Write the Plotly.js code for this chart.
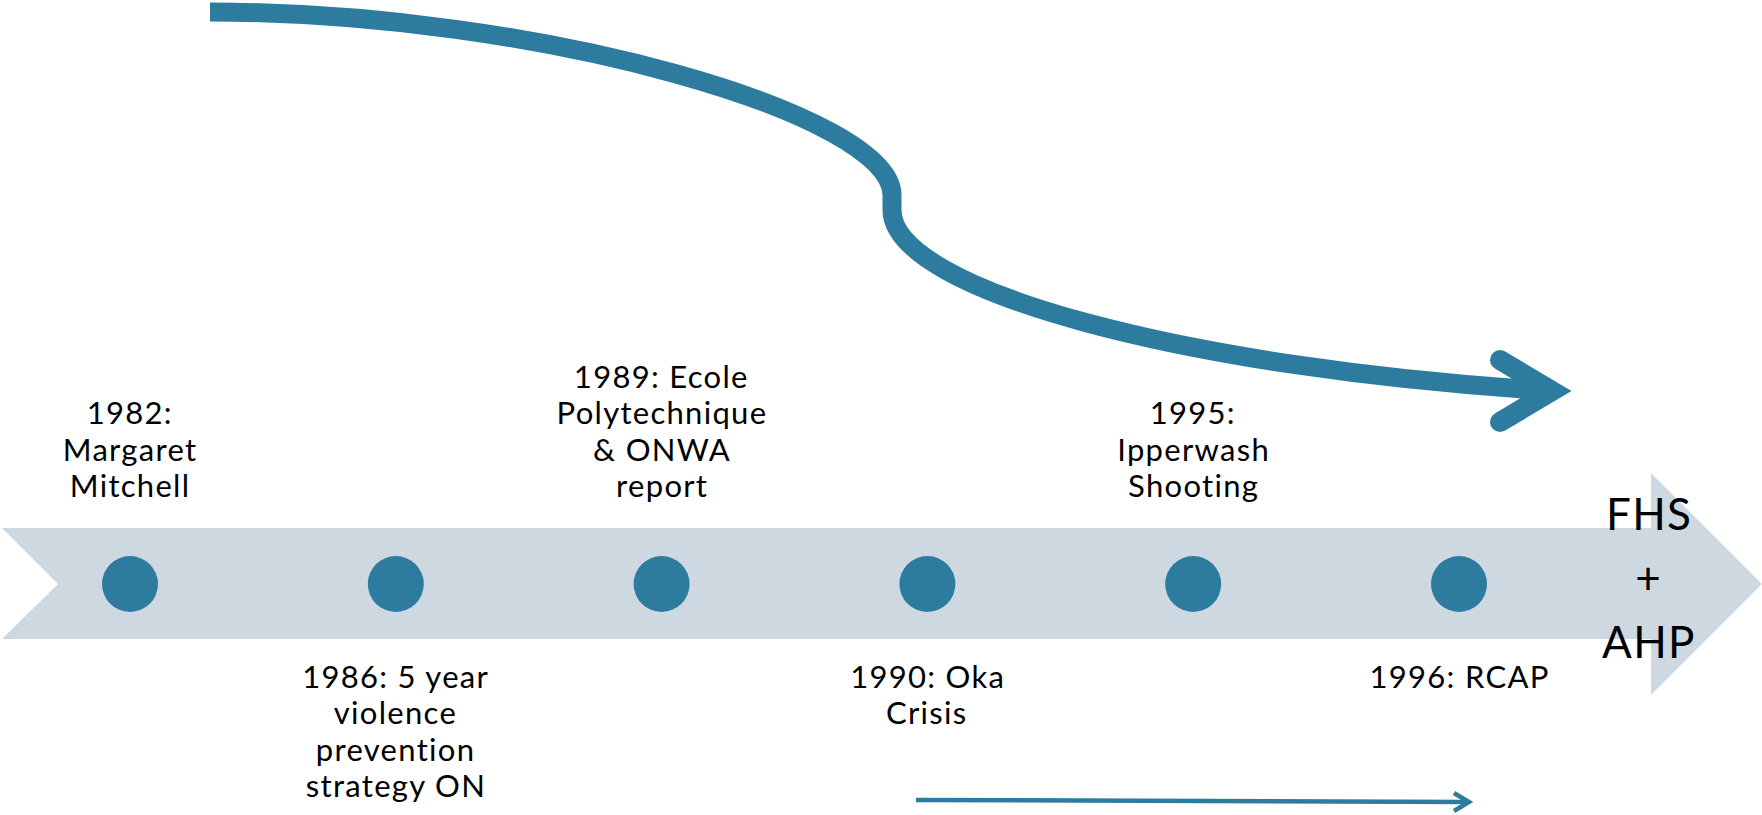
<!DOCTYPE html>
<html>
<head>
<meta charset="utf-8">
<script src="https://cdn.plot.ly/plotly-3.0.1.min.js"></script>
<style>
  html, body { margin: 0; padding: 0; background: #ffffff; }
  #chart { width: 1762px; height: 815px; }
  #chart .annotation-text { letter-spacing: 1.3px; }
</style>
</head>
<body>
<div id="chart"></div>
<script>
// ---------------- data ----------------
const eventYears  = [1982, 1986, 1989, 1990, 1995, 1996];
const eventOrder  = [0, 1, 2, 3, 4, 5];
const eventLabels = [
  "1982:\nMargaret\nMitchell",
  "1986: 5 year\nviolence\nprevention\nstrategy ON",
  "1989: Ecole\nPolytechnique\n& ONWA\nreport",
  "1990: Oka\nCrisis",
  "1995:\nIpperwash\nShooting",
  "1996: RCAP"
];
const labelSide   = ["above", "below", "above", "below", "above", "below"];
const endLabel    = ["FHS", "+", "AHP"];

// ---------------- layout helpers ----------------
const W = 1762, H = 815;
const X0PX = 130, STEP = 265.8;          // pixel position of first event, spacing
const X = px => (px - X0PX) / STEP;       // pixel -> event-axis units
const P = (px, py) => X(px) + "," + py;

const BLUE = "#2D7CA0";
const BAND = "#CDD8E0";
const FONT = "Lato, 'Noto Sans', sans-serif";
const TIMELINE_Y = 584;
const LINE_GAP = 36.3;
const FS = 31;
const CENTER_OFF = 0.387 * FS;   // bbox centre above baseline

// ---------------- traces ----------------
const dots = {
  type: "scatter",
  mode: "markers",
  x: eventOrder,
  y: eventOrder.map(() => TIMELINE_Y),
  text: eventYears.map(String),
  marker: { size: 56, color: BLUE, line: { width: 0 } },
  hoverinfo: "text",
  showlegend: false
};

// ---------------- annotations ----------------
const annotations = [];
eventLabels.forEach((lab, i) => {
  const lines = lab.split("\n");
  const n = lines.length;
  lines.forEach((ln, k) => {
    const base = labelSide[i] === "above"
      ? 497 - LINE_GAP * (n - 1 - k)
      : 688 + LINE_GAP * k;
    annotations.push({
      x: eventOrder[i], y: base - CENTER_OFF, xref: "x", yref: "y",
      text: ln, showarrow: false, xanchor: "center", yanchor: "middle",
      font: { family: FONT, size: FS, color: "#000000" }
    });
  });
});
const ENDFS = 44;
endLabel.forEach((t, k) => {
  const base = 530 + 64 * k;
  annotations.push({
    x: X(1649), y: base - 0.387 * ENDFS, xref: "x", yref: "y",
    text: t, showarrow: false, xanchor: "center", yanchor: "middle",
    font: { family: FONT, size: ENDFS, color: "#000000" }
  });
});

// ---------------- shapes ----------------
const shapes = [
  { // timeline band with notched tail and arrow head
    type: "path", xref: "x", yref: "y", layer: "below",
    path: "M " + P(2,528) + " L " + P(1651,528) + " L " + P(1651,473) + " L " + P(1762,584) +
          " L " + P(1651,695) + " L " + P(1651,639) + " L " + P(2,639) + " L " + P(58,584) + " Z",
    fillcolor: BAND, line: { width: 0 }
  },
  { // big S-shaped arrow shaft
    type: "path", xref: "x", yref: "y", layer: "above",
    path: "M " + P(210,12) + " C " + P(540,12) + " " + P(892,115) + " " + P(892,195) +
          " L " + P(892,210) + " C " + P(892,290) + " " + P(1185,369) + " " + P(1555,391),
    line: { color: BLUE, width: 19 }, fillcolor: "rgba(0,0,0,0)"
  },
  { // big arrow head
    type: "path", xref: "x", yref: "y", layer: "above",
    path: "M " + P(1500,360) + " L " + P(1552,391) + " L " + P(1500,422),
    line: { color: BLUE, width: 20 }, fillcolor: "rgba(0,0,0,0)"
  },
  { type: "circle", xref: "x", yref: "y", x0: X(1490), x1: X(1510), y0: 350, y1: 370,
    fillcolor: BLUE, line: { width: 0 } },
  { type: "circle", xref: "x", yref: "y", x0: X(1490), x1: X(1510), y0: 412, y1: 432,
    fillcolor: BLUE, line: { width: 0 } },
  { // small bottom arrow
    type: "path", xref: "x", yref: "y", layer: "above",
    path: "M " + P(916,800) + " L " + P(1467,802),
    line: { color: BLUE, width: 4.5 }, fillcolor: "rgba(0,0,0,0)"
  },
  {
    type: "path", xref: "x", yref: "y", layer: "above",
    path: "M " + P(1454,793) + " L " + P(1469,802) + " L " + P(1454,811),
    line: { color: BLUE, width: 4.5 }, fillcolor: "rgba(0,0,0,0)"
  }
];

const layout = {
  width: W, height: H,
  margin: { l: 0, r: 0, t: 0, b: 0, pad: 0 },
  paper_bgcolor: "#ffffff", plot_bgcolor: "#ffffff",
  showlegend: false,
  xaxis: { range: [X(0), X(W)], visible: false, fixedrange: true },
  yaxis: { range: [H, 0], visible: false, fixedrange: true },
  shapes: shapes,
  annotations: annotations
};

Plotly.newPlot("chart", [dots], layout, { displayModeBar: false, staticPlot: true });
</script>
</body>
</html>
